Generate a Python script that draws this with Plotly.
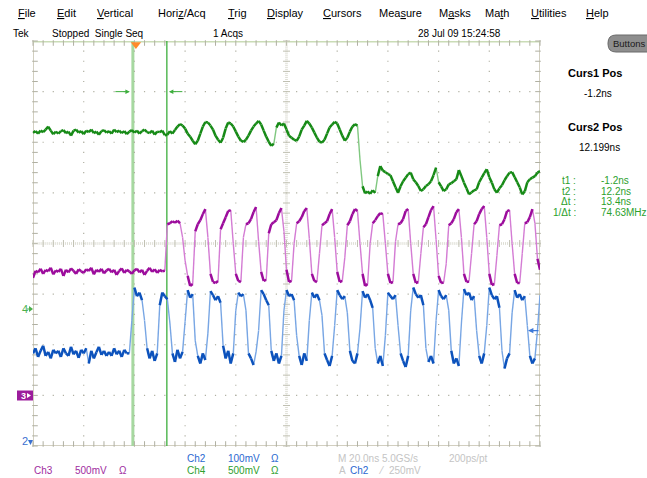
import numpy as np
import plotly.graph_objects as go

W, H = 647, 478
# graticule box on the page (pixels)
LEFT, RIGHT, TOP, BOTTOM = 33, 540, 41, 446

NS_PER_DIV = 20.0
T_LEFT = -40.6                      # time at the left graticule edge, ns
T_RIGHT = T_LEFT + 10 * NS_PER_DIV
SAMPLE_NS = 1.0

# ---- acquired records, mV, one row per 10 ns -------------------------------
ch4_mv = [
    1730, 1745, 1720, 1750, 1735, 1760, 1790, 1750, 1715, 1740,
    1720, 1745, 1755, 1725, 1740, 1700, 1750, 1760, 1730, 1745,
    1715, 1750, 1735, 1760, 1725, 1740, 1710, 1745, 1755, 1730,
    1745, 1720, 1760, 1735, 1750, 1725, 1745, 1715, 1740, 1755,
    1730, 1750, 1720, 1745, 1760, 1735, 1725, 1750, 1710, 1740,
    1735, 1750, 1705, 1710, 1745, 1720, 1755, 1790, 1815, 1800,
    1770, 1720, 1690, 1650, 1615, 1650, 1720, 1790, 1835, 1830,
    1800, 1760, 1700, 1660, 1630, 1680, 1770, 1830, 1820, 1790,
    1740, 1690, 1650, 1638, 1660, 1700, 1750, 1790, 1820, 1846,
    1810, 1750, 1690, 1640, 1600, 1620, 1780, 1830, 1800, 1820,
    1760, 1700, 1680, 1660, 1648, 1690, 1760, 1800, 1846, 1820,
    1780, 1730, 1680, 1640, 1632, 1660, 1720, 1780, 1810, 1836,
    1820, 1760, 1700, 1650, 1680, 1740, 1790, 1813, 1800, 1460,
    1200, 1130, 1150, 1125, 1160, 1135, 1300, 1400, 1355, 1340,
    1320, 1310, 1250, 1190, 1137, 1200, 1250, 1285, 1320, 1335,
    1269, 1240, 1203, 1153, 1170, 1203, 1220, 1250, 1310, 1384,
    1240, 1200, 1153, 1170, 1219, 1230, 1250, 1269, 1360, 1300,
    1236, 1180, 1120, 1140, 1160, 1170, 1240, 1285, 1330, 1368,
    1290, 1236, 1170, 1137, 1180, 1210, 1260, 1300, 1335, 1340,
    1290, 1240, 1190, 1120, 1150, 1240, 1270, 1285, 1300, 1335,
    1350,
]

ch3_mv = [
    1160, 1230, 1215, 1250, 1200, 1240, 1225, 1260, 1195, 1235,
    1220, 1250, 1180, 1240, 1215, 1255, 1230, 1200, 1245, 1225,
    1210, 1245, 1230, 1260, 1195, 1240, 1220, 1250, 1205, 1235,
    1250, 1215, 1240, 1190, 1230, 1255, 1210, 1240, 1225, 1200,
    1235, 1250, 1215, 1240, 1190, 1230, 1260, 1220, 1245, 1210,
    1240, 1225, 1230, 1690, 1700, 1720, 1705, 1725, 1700, 1560,
    1330, 1180, 1080, 1100, 1620, 1690, 1730, 1790, 1840, 1560,
    1200, 1120, 1110, 1130, 1640, 1700, 1760, 1820, 1830, 1500,
    1200, 1130, 1120, 1560, 1690, 1700, 1740, 1810, 1860, 1520,
    1220, 1130, 1140, 1600, 1690, 1710, 1730, 1800, 1850, 1620,
    1240, 1120, 1130, 1500, 1700, 1720, 1760, 1820, 1850, 1550,
    1200, 1130, 1120, 1400, 1680, 1700, 1720, 1790, 1840, 1560,
    1220, 1120, 1130, 1360, 1680, 1720, 1790, 1840, 1820, 1500,
    1200, 1080, 1100, 1500, 1700, 1730, 1770, 1800, 1790, 1500,
    1200, 1110, 1120, 1520, 1690, 1700, 1740, 1820, 1840, 1500,
    1200, 1110, 1120, 1400, 1660, 1690, 1760, 1830, 1870, 1540,
    1180, 1110, 1115, 1300, 1680, 1700, 1740, 1810, 1840, 1560,
    1200, 1120, 1125, 1400, 1690, 1720, 1790, 1840, 1870, 1560,
    1200, 1090, 1100, 1380, 1680, 1690, 1740, 1820, 1830, 1500,
    1200, 1110, 1110, 1400, 1700, 1710, 1760, 1840, 1700, 1350,
    1240,
]

ch2_mv = [
    205, 215, 198, 210, 220, 200, 208, 195, 212, 205,
    210, 198, 215, 205, 200, 218, 203, 210, 196, 212,
    205, 215, 185, 210, 195, 207, 218, 202, 210, 200,
    208, 200, 215, 203, 210, 198, 212, 205, 205, 270,
    335, 318, 325, 310, 270, 215, 195, 210, 190, 205,
    300, 325, 318, 312, 265, 205, 188, 212, 195, 208,
    268, 330, 315, 322, 230, 200, 185, 205, 192, 245,
    328, 320, 310, 318, 305, 220, 195, 210, 185, 205,
    290, 325, 318, 322, 290, 205, 195, 182, 208, 250,
    330, 322, 310, 300, 210, 190, 205, 185, 200, 290,
    330, 318, 322, 310, 240, 200, 182, 205, 190, 270,
    325, 315, 322, 310, 280, 205, 192, 180, 200, 260,
    330, 320, 312, 318, 285, 210, 190, 185, 205, 255,
    328, 315, 322, 310, 295, 215, 185, 200, 180, 240,
    325, 318, 312, 320, 260, 205, 190, 178, 200, 290,
    335, 322, 315, 320, 300, 215, 188, 200, 185, 270,
    330, 318, 312, 320, 290, 210, 185, 195, 180, 265,
    332, 320, 325, 310, 318, 250, 200, 185, 205, 260,
    335, 320, 312, 318, 295, 210, 175, 195, 205, 285,
    330, 315, 322, 310, 318, 260, 200, 185, 195, 250,
    320,
]

assert len(ch2_mv) == len(ch3_mv) == len(ch4_mv) == 201

# vertical settings: mV/div and position (div)
CH2_MV_DIV, CH2_POS = 100, -4.22
CH3_MV_DIV, CH3_POS = 500, -3.0
CH4_MV_DIV, CH4_POS = 500, -1.27

CURSOR_NS = [-1.2, 12.2]
TRIG_MV = 250

t_ns = T_LEFT + SAMPLE_NS * np.arange(len(ch2_mv))

PX_PER_DIV_Y = (BOTTOM - TOP) / 8.0
PX_PER_NS = (RIGHT - LEFT) / (T_RIGHT - T_LEFT)

FONT = "Liberation Sans, Arial, sans-serif"
GRID = "#b0b0a2"
EDGE = "#c4c0ac"
C2_DARK, C2_LIGHT = "#0c52bc", "#78a6e4"
C3_DARK, C3_LIGHT = "#9c0c9c", "#d47cd4"
C4_DARK, C4_LIGHT = "#168a16", "#80c880"
GREEN_TXT = "#2ca02c"
GREY_TXT = "#c4c4c4"

fig = go.Figure()


def px(x):
    return x / W


def py(y):
    return 1 - y / H


def marks(xs, ys, symbol, size, color, width=1.0):
    fig.add_trace(go.Scatter(
        x=xs, y=ys, mode="markers", hoverinfo="skip", cliponaxis=False,
        marker=dict(symbol=symbol, size=size, color=color,
                    line=dict(color=color, width=width))))


# ---- graticule -------------------------------------------------------------
minor_t = T_LEFT + np.arange(0, 51) * NS_PER_DIV / 5
minor_y = np.arange(-20, 21) / 5.0
centre_t = T_LEFT + 5 * NS_PER_DIV

gx, gy = [], []
for k in range(1, 10):
    if k == 5:
        continue
    for yv in minor_y[1:-1]:
        gx.append(T_LEFT + k * NS_PER_DIV)
        gy.append(yv)
for yl in (-3, -2, -1, 1, 2, 3):
    for tv in minor_t[1:-1]:
        gx.append(tv)
        gy.append(yl)
marks(gx, gy, "square", 1.2, GRID, 0)

# edge ticks pointing inward
dy_in = 2.0 / PX_PER_DIV_Y
dt_in = 2.0 / PX_PER_NS
marks(minor_t, np.full(len(minor_t), -4 + dy_in), "line-ns", 4, GRID)
marks(minor_t, np.full(len(minor_t), 4 - dy_in), "line-ns", 4, GRID)
marks(np.full(len(minor_y), T_LEFT + dt_in), minor_y, "line-ew", 4, GRID)
marks(np.full(len(minor_y), T_RIGHT - dt_in), minor_y, "line-ew", 4, GRID)

# centre cross with fine ticks
fine_y = np.arange(-100, 101) / 25.0
fine_t = T_LEFT + np.arange(0, 251) * NS_PER_DIV / 25
marks(np.full(len(fine_y), centre_t), fine_y, "line-ew", 2, "#d6d6ca", 0.8)
marks(fine_t, np.zeros(len(fine_t)), "line-ns", 2, "#d6d6ca", 0.8)
marks(np.full(len(minor_y), centre_t), minor_y, "line-ew", 5, "#c0c0b2")
marks(minor_t, np.zeros(len(minor_t)), "line-ns", 5, "#c0c0b2")

# border
fig.add_shape(type="rect", x0=T_LEFT, x1=T_RIGHT, y0=-4, y1=4, xref="x", yref="y",
              line=dict(color=EDGE, width=1.5), layer="below")
fig.add_shape(type="line", x0=T_LEFT, x1=T_RIGHT, y0=4, y1=4, xref="x", yref="y",
              line=dict(color="#cadcb6", width=3), layer="below")

# cursors
fig.add_shape(type="line", x0=CURSOR_NS[0], x1=CURSOR_NS[0], y0=-4, y1=4,
              xref="x", yref="y", line=dict(color="#a6d8a0", width=3), layer="below")
fig.add_shape(type="line", x0=CURSOR_NS[1], x1=CURSOR_NS[1], y0=-4, y1=4,
              xref="x", yref="y", line=dict(color="#3cae3c", width=1.3), layer="below")


# ---- waveforms: steep segments in the light shade, the rest dark ----------
def waveform(mv, mv_div, pos, dark, light):
    y = np.asarray(mv, dtype=float) / mv_div + pos
    dx, dy, lx, ly = [], [], [], []
    for i in range(len(y) - 1):
        steep = abs(y[i + 1] - y[i]) * PX_PER_DIV_Y > 13
        tx, ty = (lx, ly) if steep else (dx, dy)
        tx += [t_ns[i], t_ns[i + 1], None]
        ty += [y[i], y[i + 1], None]
    fig.add_trace(go.Scatter(x=lx, y=ly, mode="lines", hoverinfo="skip",
                             line=dict(color=light, width=1.4)))
    fig.add_trace(go.Scatter(x=dx, y=dy, mode="lines", hoverinfo="skip",
                             line=dict(color=dark, width=2.5)))


waveform(ch4_mv, CH4_MV_DIV, CH4_POS, C4_DARK, C4_LIGHT)
waveform(ch3_mv, CH3_MV_DIV, CH3_POS, C3_DARK, C3_LIGHT)
waveform(ch2_mv, CH2_MV_DIV, CH2_POS, C2_DARK, C2_LIGHT)

# trigger position marker
marks([0.0], [4 - 0.07], "triangle-down", 9, "#ff8a2a", 0)

# cursor arrows on the third division line
fig.add_annotation(x=CURSOR_NS[0], y=3, xref="x", yref="y", ax=-19, ay=0, text="",
                   showarrow=True, arrowhead=2, arrowsize=0.9, arrowwidth=1,
                   arrowcolor="#3cae3c", standoff=3)
fig.add_annotation(x=CURSOR_NS[1], y=3, xref="x", yref="y", ax=17, ay=0, text="",
                   showarrow=True, arrowhead=2, arrowsize=0.9, arrowwidth=1,
                   arrowcolor="#3cae3c", standoff=2)

# trigger level indicator on the right edge
trig_div = TRIG_MV / CH2_MV_DIV + CH2_POS
fig.add_annotation(x=T_RIGHT - 12 / PX_PER_NS, y=trig_div, xref="x", yref="y",
                   ax=12, ay=0, text="", showarrow=True, arrowhead=2, arrowsize=0.9,
                   arrowwidth=1.2, arrowcolor="#3c78d8", standoff=0)


# ---- text ------------------------------------------------------------------
def text(x, y, s, color="#000000", size=10, anchor="left", bold=False):
    fig.add_annotation(x=px(x), y=py(y), xref="paper", yref="paper",
                       text=f"<b>{s}</b>" if bold else s, showarrow=False,
                       xanchor=anchor, yanchor="middle", borderpad=0,
                       font=dict(family=FONT, size=size, color=color))


menu = [("File", 0, 17), ("Edit", 0, 56), ("Vertical", 0, 96), ("Horiz/Acq", 4, 157),
        ("Trig", 0, 227), ("Display", 0, 266), ("Cursors", 0, 322), ("Measure", 3, 378),
        ("Masks", 1, 438), ("Math", 2, 484), ("Utilities", 0, 530), ("Help", 0, 585)]
for word, u, x in menu:
    label = word[:u] + "<u>" + word[u] + "</u>" + word[u + 1:]
    text(x, 13, label, size=11)

text(12, 33, "Tek")
text(51, 33, "Stopped&nbsp;&nbsp;Single Seq")
text(212, 33, "1 Acqs")
text(417, 33, "28 Jul 09 15:24:58")

# buttons pill
bx0, bx1, by0, by1, r = 608, 656, 35, 52, 8
pill = (f"M {px(bx0 + r)},{py(by0)} L {px(bx1 - r)},{py(by0)} "
        f"Q {px(bx1)},{py(by0)} {px(bx1)},{py(by0 + r)} L {px(bx1)},{py(by1 - r)} "
        f"Q {px(bx1)},{py(by1)} {px(bx1 - r)},{py(by1)} L {px(bx0 + r)},{py(by1)} "
        f"Q {px(bx0)},{py(by1)} {px(bx0)},{py(by1 - r)} L {px(bx0)},{py(by0 + r)} "
        f"Q {px(bx0)},{py(by0)} {px(bx0 + r)},{py(by0)} Z")
fig.add_shape(type="path", path=pill, xref="paper", yref="paper",
              fillcolor="#8e8e8e", line=dict(color="#6a6a6a", width=1))
text(612, 43.5, "Buttons", color="#1a1a1a", size=9.5)

text(595, 73, "Curs1 Pos", size=11, anchor="center", bold=True)
text(598, 93, "-1.2ns", anchor="center")
text(595, 127, "Curs2 Pos", size=11, anchor="center", bold=True)
text(599, 147, "12.199ns", anchor="center")

t1, t2 = CURSOR_NS
readout = [("t1 :", f"{t1:.1f}ns", 181), ("t2 :", f"{t2:.1f}ns", 191.5),
           ("Δt :", f"{t2 - t1:.1f}ns", 202), ("1/Δt :", f"{1e3 / (t2 - t1):.2f}MHz", 212.5)]
for lab, val, y in readout:
    text(577, y, lab, color=GREEN_TXT, anchor="right")
    text(600, y, val, color=GREEN_TXT)

# channel ground markers
text(21, 309, "4", color="#4cb04c", size=11)
fig.add_shape(type="path", xref="paper", yref="paper", fillcolor="#4cb04c",
              line=dict(width=0),
              path=f"M {px(29)},{py(306)} L {px(33)},{py(309)} L {px(29)},{py(312)} Z")
fig.add_shape(type="line", xref="paper", yref="paper", x0=px(27), x1=px(30),
              y0=py(309), y1=py(309), line=dict(color="#4cb04c", width=1))

fig.add_shape(type="rect", xref="paper", yref="paper", x0=px(17), x1=px(33),
              y0=py(400.5), y1=py(390.5), fillcolor="#9c1c9c", line=dict(width=0))
text(19.5, 396, "<b>3</b>", color="#ffffff", size=9)
fig.add_shape(type="path", xref="paper", yref="paper", fillcolor="#ffffff",
              line=dict(width=0),
              path=f"M {px(27)},{py(393)} L {px(31)},{py(395.5)} L {px(27)},{py(398)} Z")

text(21, 441, "2", color="#3a70d0", size=11)
fig.add_shape(type="path", xref="paper", yref="paper", fillcolor="#3a70d0",
              line=dict(width=0),
              path=f"M {px(28)},{py(440)} L {px(33)},{py(440)} L {px(30.5)},{py(445)} Z")

# bottom readouts
text(186, 458, "Ch2", color="#2a68d0")
text(227, 458, "100mV", color="#2a68d0")
text(270, 458, "Ω", color="#2a68d0")
text(337, 458, "M 20.0ns 5.0GS/s", color=GREY_TXT)
text(448, 458, "200ps/pt", color=GREY_TXT)

text(33, 470, "Ch3", color="#a02ca0")
text(74, 470, "500mV", color="#a02ca0")
text(118, 470, "Ω", color="#a02ca0")
text(186, 470, "Ch4", color="#2ea02e")
text(227, 470, "500mV", color="#2ea02e")
text(270, 470, "Ω", color="#2ea02e")
text(338, 470, "A", color=GREY_TXT)
text(349, 470, "Ch2", color="#2a68d0")
text(377, 470, "⁄", color=GREY_TXT)
text(388, 470, f"{TRIG_MV}mV", color=GREY_TXT)

fig.update_layout(
    width=W, height=H, margin=dict(l=0, r=0, t=0, b=0),
    paper_bgcolor="#ffffff", plot_bgcolor="#ffffff", showlegend=False,
    xaxis=dict(domain=[LEFT / W, RIGHT / W], range=[T_LEFT, T_RIGHT], visible=False,
               fixedrange=True),
    yaxis=dict(domain=[1 - BOTTOM / H, 1 - TOP / H], range=[-4, 4], visible=False,
               fixedrange=True),
)

fig.write_html("out.html")
